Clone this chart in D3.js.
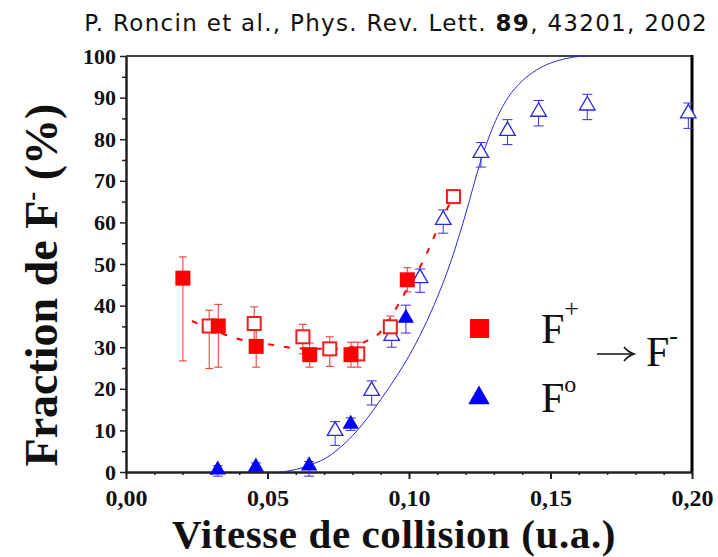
<!DOCTYPE html>
<html>
<head>
<meta charset="utf-8">
<script src="https://cdn.jsdelivr.net/npm/d3@7"></script>
<style>
  body { margin: 0; background: #fff; }
  .tick text { font-family: "Liberation Serif", serif; font-weight: bold; fill: #111; }
</style>
</head>
<body>
<svg class="fraction-plot" width="718" height="557"></svg>
<script>
/**********************
 Data
**********************/
// each row: [velocity (a.u.), fraction (%), error low, error high]
var fPlusFilled = [
  [0.0201, 46.6, 26.7, 51.7],
  [0.0326, 35.1, 25.2, 40.3],
  [0.0460, 30.2, 25.2, 35.1],
  [0.0649, 28.2, 25.2, 31.0],
  [0.0795, 28.2, 25.2, 31.2],
  [0.0994, 46.2, 43.3, 49.1]
];
var fPlusOpen = [
  [0.0294, 35.1, 24.9, 38.9],
  [0.0453, 35.7, 31.5, 39.7],
  [0.0625, 32.5, 28.4, 35.5],
  [0.0720, 29.6, 25.4, 32.5],
  [0.0819, 28.4, 25.2, 31.2],
  [0.0934, 34.9, 32.0, 37.5],
  [0.1157, 66.2, 65.2, 67.2]
];
var fZeroFilled = [
  [0.0324, 0.5, -1.0, 1.5],
  [0.0459, 1.2, 0.2, 2.2],
  [0.0647, 1.5, -1.0, 2.5],
  [0.0794, 11.5, 10.0, 13.0],
  [0.0989, 37.0, 33.4, 40.1]
];
var fZeroOpen = [
  [0.0739, 9.9, 6.4, 12.1],
  [0.0868, 19.5, 16.1, 21.9],
  [0.0939, 32.7, 30.0, 35.0],
  [0.1039, 46.6, 43.2, 48.8],
  [0.1121, 60.6, 57.4, 63.0],
  [0.1254, 76.7, 73.3, 79.2],
  [0.1348, 82.0, 78.7, 84.7],
  [0.1458, 86.6, 83.2, 89.3],
  [0.1630, 88.1, 84.7, 90.8],
  [0.1987, 86.2, 82.6, 88.7]
];
// guide-to-the-eye curve through the F+ points (dashed)
var fitFPlus = [
  [0.0233, 36.3], [0.0286, 34.8], [0.0391, 32.1], [0.0497, 30.8], [0.0550, 30.2],
  [0.0603, 29.7], [0.0750, 29.6], [0.0856, 31.7], [0.0903, 33.9], [0.0944, 38.1],
  [0.0975, 41.8], [0.1063, 52.6], [0.1081, 55.4], [0.1127, 62.2], [0.1157, 66.2]
];
// model curve for F0 (solid)
var fitFZero = [
  [0.0545, 0.0], [0.0600, 0.6], [0.0650, 1.7], [0.0700, 3.1], [0.0750, 5.5],
  [0.0800, 8.7], [0.0850, 12.7], [0.0900, 17.4], [0.0950, 22.4], [0.1000, 27.9],
  [0.1050, 34.4], [0.1100, 42.0], [0.1150, 51.0], [0.1200, 62.0], [0.1250, 74.0],
  [0.1300, 83.5], [0.1350, 90.0], [0.1400, 94.0], [0.1450, 96.6], [0.1500, 98.3],
  [0.1550, 99.3], [0.1600, 99.9], [0.1630, 100.0]
];
var xTickValues = [0, 0.05, 0.10, 0.15, 0.20];
var yTickValues = [0, 10, 20, 30, 40, 50, 60, 70, 80, 90, 100];

/**********************
 Layout
**********************/
var svg = d3.select('svg.fraction-plot');
var svgWidth = +svg.attr('width');
var svgHeight = +svg.attr('height');
var padding = {t: 56, r: 26, b: 85, l: 126};

var xScale = d3.scaleLinear().domain([0, 0.2]).range([padding.l, svgWidth - padding.r]);
var yScale = d3.scaleLinear().domain([0, 100]).range([svgHeight - padding.b, padding.t]);

var red = '#ff0000', blue = '#0000ff';

// title
var title = svg.append('text')
  .attr('x', 708).attr('y', 31)
  .attr('text-anchor', 'end')
  .style('font-family', '"DejaVu Sans", sans-serif')
  .style('font-size', '23px')
  .style('letter-spacing', '1.3px')
  .attr('fill', '#111');
title.append('tspan').text('P. Roncin et al., Phys. Rev. Lett. ');
title.append('tspan').style('font-weight', 'bold').text('89');
title.append('tspan').text(', 43201, 2002');

// frame (top and right)
svg.append('line')
  .attr('x1', xScale(0)).attr('x2', xScale(0.2))
  .attr('y1', yScale(100)).attr('y2', yScale(100))
  .attr('stroke', '#444').attr('stroke-width', 2);
svg.append('line')
  .attr('x1', xScale(0.2)).attr('x2', xScale(0.2))
  .attr('y1', yScale(100) - 1).attr('y2', yScale(0))
  .attr('stroke', '#000').attr('stroke-width', 3);

// minor ticks
svg.append('g')
  .attr('transform', 'translate(0,' + yScale(0) + ')')
  .call(d3.axisBottom(xScale).tickValues(d3.range(0, 0.2001, 0.01)).tickSize(3).tickFormat(''))
  .call(function(g) { g.select('.domain').remove(); })
  .selectAll('line').attr('stroke', '#222').attr('stroke-width', 1.5);
svg.append('g')
  .attr('transform', 'translate(' + xScale(0) + ',0)')
  .call(d3.axisLeft(yScale).tickValues(d3.range(5, 100, 10)).tickSize(4).tickFormat(''))
  .call(function(g) { g.select('.domain').remove(); })
  .selectAll('line').attr('stroke', '#222').attr('stroke-width', 1.5);

// x axis
var xAxisG = svg.append('g')
  .attr('transform', 'translate(0,' + yScale(0) + ')')
  .call(d3.axisBottom(xScale).tickValues(xTickValues).tickSize(7).tickSizeOuter(0)
    .tickFormat(function(d) { return d3.format('.2f')(d).replace('.', ','); }));
xAxisG.select('.domain').attr('stroke', '#222').attr('stroke-width', 2.5);
xAxisG.selectAll('.tick line').attr('stroke', '#222').attr('stroke-width', 2);
xAxisG.selectAll('.tick text').style('font-size', '24px').attr('dy', '0.78em').attr('y', 15);

// y axis
var yAxisG = svg.append('g')
  .attr('transform', 'translate(' + xScale(0) + ',0)')
  .call(d3.axisLeft(yScale).tickValues(yTickValues).tickSize(6).tickSizeOuter(0));
yAxisG.select('.domain').attr('stroke', '#222').attr('stroke-width', 2.5);
yAxisG.selectAll('.tick line').attr('stroke', '#222').attr('stroke-width', 1.5);
yAxisG.selectAll('.tick text').style('font-size', '22px').attr('x', -10);

// axis titles
svg.append('text')
  .attr('x', 394).attr('y', 548)
  .attr('text-anchor', 'middle')
  .style('font-family', '"Liberation Serif", serif')
  .style('font-weight', 'bold').style('font-size', '41px')
  .style('letter-spacing', '0.6px')
  .attr('fill', '#111')
  .text('Vitesse de collision (u.a.)');

var yTitle = svg.append('text')
  .attr('transform', 'translate(57,' + 285 + ') rotate(-90)')
  .attr('text-anchor', 'middle')
  .style('font-family', '"Liberation Serif", serif')
  .style('font-weight', 'bold').style('font-size', '46px')
  .attr('fill', '#111');
yTitle.append('tspan').text('Fraction de F');
yTitle.append('tspan').attr('dy', -17).style('font-size', '27px').text('-');
yTitle.append('tspan').attr('dy', 17).text(' (%)');

/**********************
 Curves
**********************/
var lineGen = d3.line()
  .x(function(d) { return xScale(d[0]); })
  .y(function(d) { return yScale(d[1]); })
  .curve(d3.curveMonotoneX);

svg.append('path')
  .attr('d', lineGen(fitFZero))
  .attr('fill', 'none').attr('stroke', '#2a2ad8').attr('stroke-width', 1);

svg.append('path')
  .attr('d', lineGen(fitFPlus))
  .attr('fill', 'none').attr('stroke', red).attr('stroke-width', 2)
  .attr('stroke-dasharray', '6,10');

/**********************
 Error bars and markers
**********************/
function drawErrors(data, color, cap) {
  var g = svg.append('g').attr('stroke', color).attr('stroke-width', 1);
  var bars = g.selectAll('g').data(data).enter().append('g');
  bars.append('line')
    .attr('x1', function(d) { return xScale(d[0]); })
    .attr('x2', function(d) { return xScale(d[0]); })
    .attr('y1', function(d) { return yScale(d[2]); })
    .attr('y2', function(d) { return yScale(d[3]); });
  [2, 3].forEach(function(k) {
    bars.append('line')
      .attr('x1', function(d) { return xScale(d[0]) - cap; })
      .attr('x2', function(d) { return xScale(d[0]) + cap; })
      .attr('y1', function(d) { return yScale(d[k]); })
      .attr('y2', function(d) { return yScale(d[k]); });
  });
}

drawErrors(fPlusOpen, '#f03030', 4);
drawErrors(fPlusFilled, '#f03030', 4);
drawErrors(fZeroOpen, '#3030e0', 5);
drawErrors(fZeroFilled, '#3030e0', 5);

var tri = d3.symbol().type(d3.symbolTriangle);

svg.append('g').selectAll('path')
  .data(fZeroOpen).enter().append('path')
  .attr('d', tri.size(105)())
  .attr('transform', function(d) { return 'translate(' + xScale(d[0]) + ',' + yScale(d[1]) + ')'; })
  .attr('fill', '#fff').attr('stroke', '#2828dd').attr('stroke-width', 1.3);

svg.append('g').selectAll('path')
  .data(fZeroFilled).enter().append('path')
  .attr('d', tri.size(115)())
  .attr('transform', function(d) { return 'translate(' + xScale(d[0]) + ',' + yScale(d[1]) + ')'; })
  .attr('fill', blue);

svg.append('g').selectAll('rect')
  .data(fPlusOpen).enter().append('rect')
  .attr('x', function(d) { return xScale(d[0]) - 6.5; })
  .attr('y', function(d) { return yScale(d[1]) - 6.5; })
  .attr('width', 13).attr('height', 13)
  .attr('fill', '#fff').attr('stroke', '#ee1c1c').attr('stroke-width', 2);

svg.append('g').selectAll('rect')
  .data(fPlusFilled).enter().append('rect')
  .attr('x', function(d) { return xScale(d[0]) - 7.5; })
  .attr('y', function(d) { return yScale(d[1]) - 7.5; })
  .attr('width', 15).attr('height', 15)
  .attr('fill', red);

/**********************
 Legend
**********************/
var legend = svg.append('g')
  .style('font-family', '"Liberation Serif", serif')
  .attr('fill', '#111');

legend.append('rect')
  .attr('x', 470).attr('y', 319).attr('width', 19).attr('height', 19)
  .attr('fill', red);
legend.append('path')
  .attr('d', d3.symbol().type(d3.symbolTriangle).size(200)())
  .attr('transform', 'translate(479,398)')
  .attr('fill', blue);

var lp = legend.append('text').attr('x', 541).attr('y', 343).style('font-size', '42px');
lp.append('tspan').text('F');
lp.append('tspan').attr('dy', -26).style('font-size', '26px').text('+');

var lz = legend.append('text').attr('x', 541).attr('y', 412).style('font-size', '42px');
lz.append('tspan').text('F');
lz.append('tspan').attr('dy', -20).style('font-size', '24px').text('o');

// arrow of the reaction F+ , F0 -> F-
legend.append('line')
  .attr('x1', 597).attr('x2', 632).attr('y1', 354).attr('y2', 354)
  .attr('stroke', '#111').attr('stroke-width', 1.6);
legend.append('path')
  .attr('d', 'M624,347 Q628,352 634,354 Q628,356 624,361')
  .attr('fill', 'none').attr('stroke', '#111').attr('stroke-width', 1.6);

var la = legend.append('text').attr('x', 646).attr('y', 366).style('font-size', '42px');
la.append('tspan').text('F');
la.append('tspan').attr('dy', -22).style('font-size', '26px').text('-');
</script>
</body>
</html>
